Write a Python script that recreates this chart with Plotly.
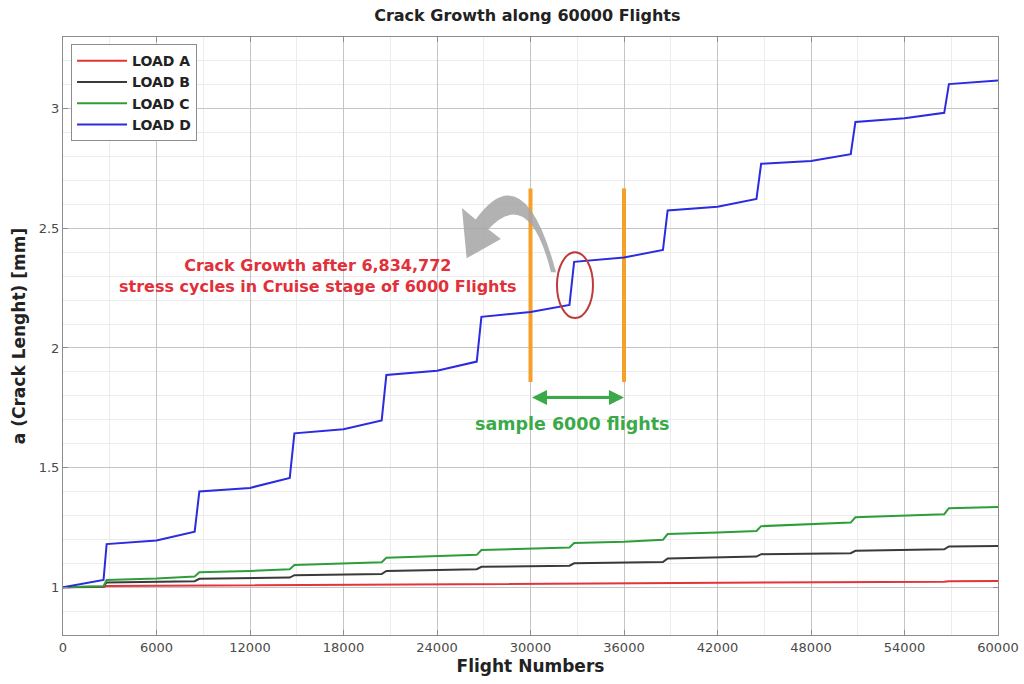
import plotly.graph_objects as go

# Flight numbers at which the crack-length curves are sampled
flights = [0, 2600, 2800, 6000, 8450, 8750, 12000, 14550, 14850, 18000,
           20450, 20750, 24000, 26550, 26850, 30000, 32500, 32800, 36000,
           38500, 38800, 42000, 44500, 44800, 48000, 50550, 50850, 54000,
           56550, 56850, 60000]

# Crack length a [mm] for each load case
load_a = [1.000, 1.001, 1.005, 1.006, 1.006, 1.008, 1.008, 1.009, 1.010, 1.010,
          1.011, 1.012, 1.012, 1.013, 1.014, 1.014, 1.015, 1.016, 1.016,
          1.017, 1.018, 1.018, 1.019, 1.020, 1.020, 1.021, 1.022, 1.022,
          1.023, 1.025, 1.026]
load_b = [1.000, 1.003, 1.020, 1.022, 1.025, 1.035, 1.037, 1.040, 1.050, 1.052,
          1.055, 1.068, 1.071, 1.075, 1.085, 1.087, 1.090, 1.100, 1.102,
          1.105, 1.120, 1.124, 1.128, 1.138, 1.140, 1.142, 1.152, 1.155,
          1.158, 1.170, 1.172]
load_c = [1.000, 1.004, 1.030, 1.036, 1.045, 1.062, 1.068, 1.075, 1.093, 1.098,
          1.104, 1.123, 1.128, 1.135, 1.155, 1.160, 1.166, 1.185, 1.190,
          1.198, 1.222, 1.228, 1.235, 1.255, 1.262, 1.270, 1.292, 1.298,
          1.305, 1.330, 1.335]
load_d = [1.000, 1.030, 1.180, 1.195, 1.232, 1.400, 1.415, 1.457, 1.643, 1.660,
          1.697, 1.887, 1.905, 1.943, 2.130, 2.150, 2.180, 2.360, 2.378,
          2.410, 2.575, 2.590, 2.623, 2.770, 2.782, 2.810, 2.945, 2.960,
          2.983, 3.103, 3.118]

series_names = ["LOAD A", "LOAD B", "LOAD C", "LOAD D"]
series_colors = ["#E3343A", "#3A3A3A", "#2E9E3A", "#2B2BE0"]

x_ticks = [0, 6000, 12000, 18000, 24000, 30000, 36000, 42000, 48000, 54000, 60000]
x_tick_text = [str(v) for v in x_ticks]
y_ticks = [1, 1.5, 2, 2.5, 3]
y_tick_text = ["1", "1.5", "2", "2.5", "3"]

# Sample window highlighted on the plot
window_start, window_end = 30000, 36000

FONT = "DejaVu Sans, Arial, sans-serif"

fig = go.Figure()
for name, vals, col in zip(series_names, [load_a, load_b, load_c, load_d], series_colors):
    fig.add_trace(go.Scatter(x=flights, y=vals, mode="lines", name=name,
                             line=dict(color=col, width=2)))

# Orange markers bounding the 6000-flight sample
for xv in (window_start, window_end):
    fig.add_shape(type="line", x0=xv, x1=xv, y0=1.858, y1=2.667,
                  xref="x", yref="y", line=dict(color="#F5A02A", width=4),
                  layer="between")

# Red ellipse around the cruise-stage jump
fig.add_shape(type="circle", x0=31700, x1=34010, y0=2.125, y1=2.40,
              xref="x", yref="y", line=dict(color="#C0393B", width=2))

# Curved grey arrow pointing to the explanatory text
fig.add_shape(type="path", xref="x", yref="y",
              path=("M 31636,2.317 Q 29583,2.817 26483,2.5375 "
                    "L 25600,2.585 L 25900,2.375 L 28100,2.455 L 27292,2.496 "
                    "Q 29904,2.679 31315,2.317 Z"),
              fillcolor="rgba(165,165,165,0.85)", line=dict(width=0))

# Double-headed green arrow spanning the sample window
fig.add_annotation(x=window_end, y=1.793, ax=window_start, ay=1.793,
                   xref="x", yref="y", axref="x", ayref="y", text="",
                   showarrow=True, arrowside="end+start", arrowhead=2,
                   arrowsize=1, arrowwidth=3, arrowcolor="#3AAA48")

fig.add_annotation(x=32663, y=1.683, xref="x", yref="y",
                   text="sample 6000 flights", showarrow=False,
                   font=dict(family=FONT, size=17.5, color="#3AAA48", weight="bold"))

fig.add_annotation(x=16350, y=2.30, xref="x", yref="y",
                   text="Crack Growth after 6,834,772<br>stress cycles in Cruise stage of 6000 Flights",
                   showarrow=False, align="center",
                   font=dict(family=FONT, size=16, color="#E2303A", weight="bold"))

axis_common = dict(showline=True, linecolor="#8C8C8C", linewidth=1, mirror="ticks",
                   ticks="inside", ticklen=5, tickcolor="#8C8C8C",
                   showgrid=True, gridcolor="#C4C4C4", gridwidth=1, zeroline=False,
                   automargin=False,
                   tickfont=dict(family=FONT, size=13, color="#4A4A4A"))

fig.update_layout(
    width=1024, height=684,
    margin=dict(l=63, r=26, t=37, b=49),
    paper_bgcolor="white", plot_bgcolor="white",
    title=dict(text="Crack Growth along 60000 Flights", x=0.515, xanchor="center",
               y=0.978, yanchor="middle",
               font=dict(family=FONT, size=16, color="#222222", weight="bold")),
    xaxis=dict(range=[0, 60000], tickvals=x_ticks, ticktext=x_tick_text,
               minor=dict(dtick=3000, showgrid=True, gridcolor="#ECECEC", gridwidth=1),
               title=dict(text="Flight Numbers", standoff=6,
                          font=dict(family=FONT, size=17, color="#222222", weight="bold")),
               **axis_common),
    yaxis=dict(range=[0.8, 3.3], tickvals=y_ticks, ticktext=y_tick_text,
               minor=dict(dtick=0.1, showgrid=True, gridcolor="#ECECEC", gridwidth=1),
               title=dict(text="a (Crack Lenght) [mm]", standoff=8,
                          font=dict(family=FONT, size=17, color="#222222", weight="bold")),
               **axis_common),
    legend=dict(x=0.0086, y=0.988, xanchor="left", yanchor="top",
                bgcolor="white", bordercolor="#8C8C8C", borderwidth=1,
                itemwidth=50,
                font=dict(family=FONT, size=14, color="#222222", weight="bold"),
                tracegroupgap=0),
    showlegend=True,
)

fig.write_html("out.html")
